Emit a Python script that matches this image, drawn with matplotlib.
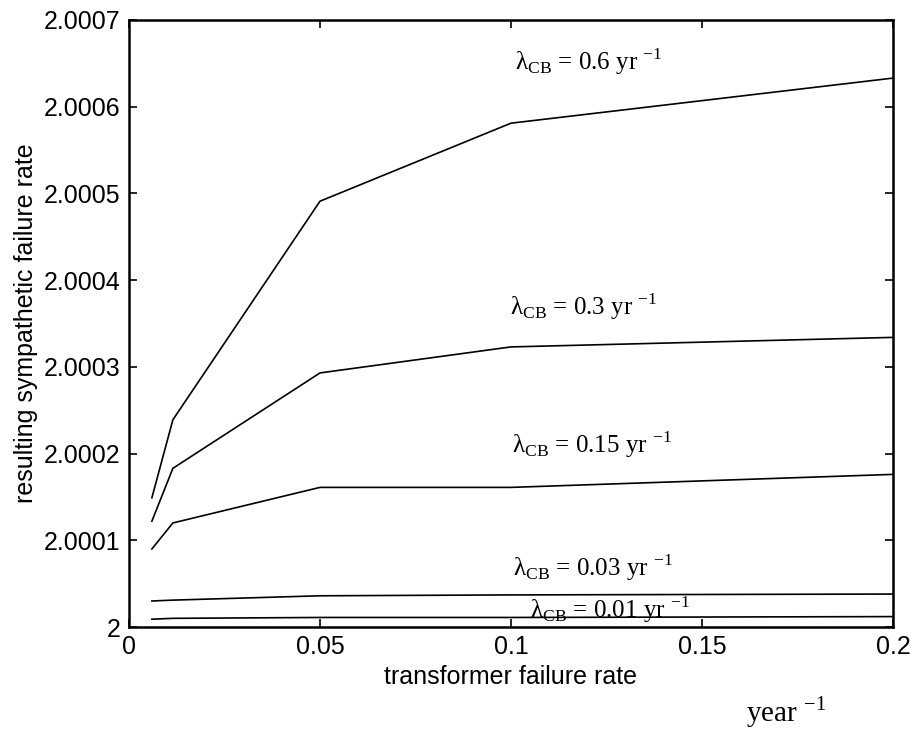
import matplotlib.pyplot as plt

plt.rcParams['font.family'] = ['Liberation Sans', 'DejaVu Sans']
plt.rcParams['mathtext.fontset'] = 'custom'
plt.rcParams['mathtext.rm'] = 'Liberation Serif'

# transformer failure rate (year^-1)
x = [0.006, 0.0115, 0.05, 0.1, 0.2]

# resulting sympathetic failure rate for each breaker failure rate
y_06 = [2.000149, 2.000239, 2.000491, 2.000581, 2.000633]
y_03 = [2.000122, 2.000183, 2.000293, 2.000323, 2.000334]
y_015 = [2.000090, 2.000120, 2.000161, 2.000161, 2.000176]
y_003 = [2.000030, 2.000031, 2.000036, 2.000037, 2.000038]
y_001 = [2.000009, 2.000010, 2.000011, 2.000011, 2.000012]

curves = [y_06, y_03, y_015, y_003, y_001]
labels = ['0.6', '0.3', '0.15', '0.03', '0.01']
label_pos = [(0.1010, 2.000652), (0.0997, 2.000369), (0.1003, 2.000210),
             (0.1005, 2.000069), (0.1050, 2.000020)]

xticks = [0, 0.05, 0.1, 0.15, 0.2]
xtick_labels = ['0', '0.05', '0.1', '0.15', '0.2']
yticks = [2.0, 2.0001, 2.0002, 2.0003, 2.0004, 2.0005, 2.0006, 2.0007]
ytick_labels = ['2', '2.0001', '2.0002', '2.0003', '2.0004', '2.0005', '2.0006', '2.0007']

fig = plt.figure(figsize=(9.12, 7.38), dpi=100)
ax = fig.add_axes([0.1414, 0.1504, 0.8377, 0.8225])

for ys in curves:
    ax.plot(x, ys, color='black', linewidth=1.2)

for lab, (tx, ty) in zip(labels, label_pos):
    ax.text(tx, ty, 'λ$_{\\mathrm{CB}}$ = ' + lab + ' yr $^{\\mathrm{-1}}$',
            family=['Liberation Serif', 'DejaVu Serif'], fontsize=18,
            va='center', ha='left')

ax.set_xlim(0, 0.2)
ax.set_ylim(2.0, 2.0007)
ax.set_xticks(xticks)
ax.set_xticklabels(xtick_labels)
ax.set_yticks(yticks)
ax.set_yticklabels(ytick_labels)
ax.tick_params(direction='in', length=6, width=1.2, labelsize=18,
               top=True, right=True, pad=6)

for sp in ax.spines.values():
    sp.set_linewidth(1.8)

ax.set_xlabel('transformer failure rate', fontsize=18, labelpad=4)
ax.set_ylabel('resulting sympathetic failure rate', fontsize=18, labelpad=4)

fig.text(0.818, 0.035, 'year $^{\\mathrm{-1}}$', family=['Liberation Serif', 'DejaVu Serif'],
         fontsize=21, ha='left', va='center')

fig.savefig('out.png', dpi=100)
